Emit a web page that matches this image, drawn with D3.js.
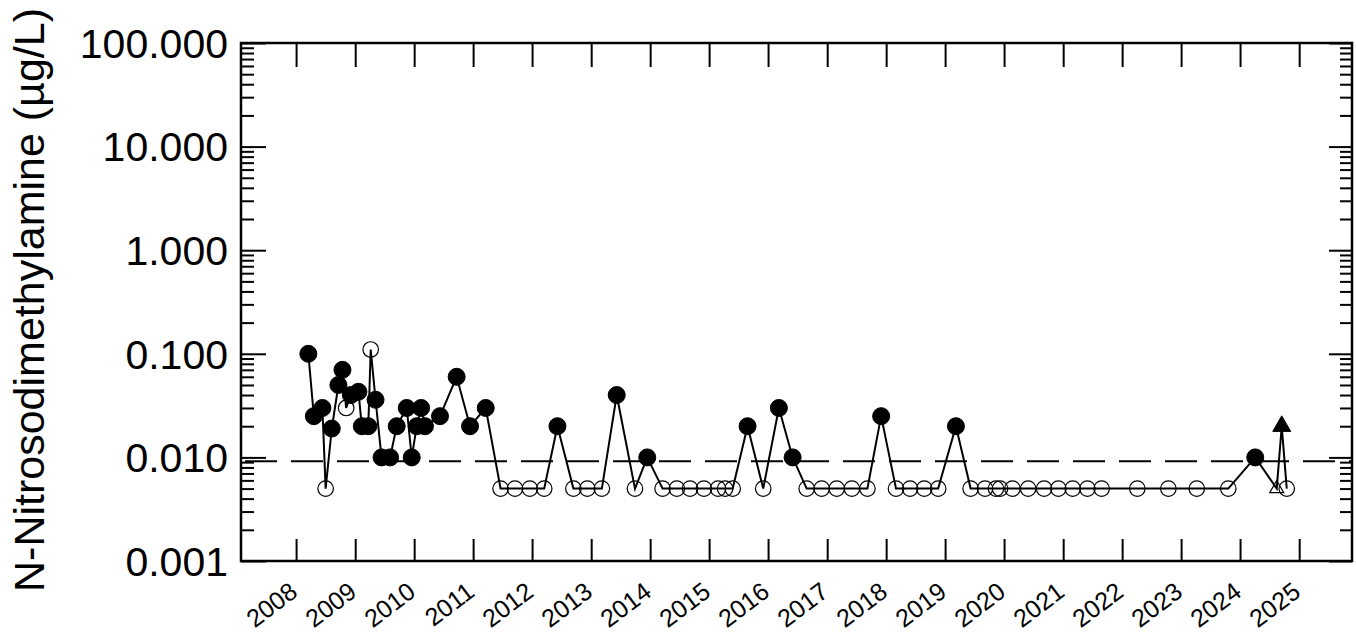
<!DOCTYPE html>
<html>
<head>
<meta charset="utf-8">
<script src="https://cdn.jsdelivr.net/npm/d3@7"></script>
<style>
  body { margin: 0; background: #fff; }
  svg { display: block; font-family: "Liberation Sans", Arial, sans-serif; }
</style>
</head>
<body>
<svg width="1356" height="635"></svg>
<script>
// sample dates, results (ug/L), detect flag (1 = detected, 0 = below reporting limit), marker shape
var sampleDates = [
  "2008-03-17", "2008-04-20", "2008-06-12", "2008-07-02", "2008-08-09", "2008-09-19", "2008-10-14", "2008-11-06",
  "2008-12-05", "2009-01-21", "2009-02-11", "2009-03-23", "2009-04-07", "2009-05-07", "2009-06-13", "2009-08-05",
  "2009-09-15", "2009-11-16", "2009-12-17", "2010-01-17", "2010-02-13", "2010-03-09", "2010-06-10", "2010-09-21",
  "2010-12-13", "2011-03-20", "2011-06-20", "2011-09-17", "2011-12-18", "2012-03-16", "2012-06-06", "2012-09-13",
  "2012-12-08", "2013-03-08", "2013-06-08", "2013-09-29", "2013-12-14", "2014-03-19", "2014-06-15", "2014-09-05",
  "2014-11-30", "2015-02-25", "2015-04-10", "2015-05-27", "2015-08-27", "2015-12-02", "2016-03-08", "2016-06-01",
  "2016-08-27", "2016-11-28", "2017-03-01", "2017-06-03", "2017-09-07", "2017-12-01", "2018-03-03", "2018-05-29",
  "2018-08-25", "2018-11-19", "2019-03-09", "2019-06-08", "2019-09-05", "2019-11-12", "2019-12-07", "2020-02-22",
  "2020-05-29", "2020-09-05", "2020-12-02", "2021-03-01", "2021-05-31", "2021-08-27", "2022-04-05", "2022-10-14",
  "2023-04-08", "2023-10-20", "2024-04-04", "2024-08-15", "2024-09-15", "2024-10-16"
];
var results = [
  0.1, 0.025, 0.03, 0.005, 0.019, 0.05, 0.07, 0.03,
  0.04, 0.043, 0.02, 0.02, 0.11, 0.036, 0.01, 0.01,
  0.02, 0.03, 0.01, 0.02, 0.03, 0.02, 0.025, 0.06,
  0.02, 0.03, 0.005, 0.005, 0.005, 0.005, 0.02, 0.005,
  0.005, 0.005, 0.04, 0.005, 0.01, 0.005, 0.005, 0.005,
  0.005, 0.005, 0.005, 0.005, 0.02, 0.005, 0.03, 0.01,
  0.005, 0.005, 0.005, 0.005, 0.005, 0.025, 0.005, 0.005,
  0.005, 0.005, 0.02, 0.005, 0.005, 0.005, 0.005, 0.005,
  0.005, 0.005, 0.005, 0.005, 0.005, 0.005, 0.005, 0.005,
  0.005, 0.005, 0.01, 0.005, 0.02, 0.005
];
var detected = [
  1, 1, 1, 0, 1, 1, 1, 0,
  1, 1, 1, 1, 0, 1, 1, 1,
  1, 1, 1, 1, 1, 1, 1, 1,
  1, 1, 0, 0, 0, 0, 1, 0,
  0, 0, 1, 0, 1, 0, 0, 0,
  0, 0, 0, 0, 1, 0, 1, 1,
  0, 0, 0, 0, 0, 1, 0, 0,
  0, 0, 1, 0, 0, 0, 0, 0,
  0, 0, 0, 0, 0, 0, 0, 0,
  0, 0, 1, 0, 1, 0
];
var markerShape = sampleDates.map(function(d, i) { return (i === 75 || i === 76) ? "triangle" : "circle"; });

var yearTicks = d3.range(2008, 2026);
var yTickValues = [0.001, 0.01, 0.1, 1, 10, 100];
var reportingLimit = 0.0092;
var yTitle = "N-Nitrosodimethylamine (\u00b5g/L)";

var svg = d3.select("svg"),
    plotLeft = 241, plotRight = 1352, plotTop = 43, plotBottom = 561;

var parse = d3.timeParse("%Y-%m-%d");

var x = d3.scaleTime()
    .domain([new Date(2007, 0, 25), new Date(2025, 10, 24)])
    .range([plotLeft, plotRight]);

var y = d3.scaleLog()
    .domain([0.001, 100])
    .range([plotBottom, plotTop]);

var points = sampleDates.map(function(d, i) {
  return { date: parse(d), value: results[i], det: detected[i], shape: markerShape[i] };
});

var minorTicks = y.ticks().filter(function(v) { return yTickValues.indexOf(v) < 0; });
var yearDates = yearTicks.map(function(yr) { return new Date(yr, 0, 1); });

function styleTicks(g) {
  g.select(".domain").remove();
  g.selectAll("line").attr("stroke", "#000").attr("stroke-width", 2);
}

// left / right axes with major + minor inner ticks
svg.append("g")
    .attr("transform", "translate(" + plotLeft + ",0)")
    .call(d3.axisRight(y).tickValues(minorTicks).tickSize(13).tickFormat(""))
    .call(styleTicks);
svg.append("g")
    .attr("transform", "translate(" + plotLeft + ",0)")
    .call(d3.axisRight(y).tickValues(yTickValues).tickSize(25).tickFormat(""))
    .call(styleTicks);
svg.append("g")
    .attr("transform", "translate(" + plotRight + ",0)")
    .call(d3.axisLeft(y).tickValues(minorTicks).tickSize(12).tickFormat(""))
    .call(styleTicks);
svg.append("g")
    .attr("transform", "translate(" + plotRight + ",0)")
    .call(d3.axisLeft(y).tickValues(yTickValues).tickSize(23).tickFormat(""))
    .call(styleTicks);

// y labels
svg.append("g")
    .selectAll("text")
    .data(yTickValues)
    .enter().append("text")
    .attr("x", plotLeft - 13)
    .attr("y", function(d) { return y(d); })
    .attr("dy", "0.36em")
    .attr("text-anchor", "end")
    .attr("font-size", 41)
    .text(d3.format(".3f"));

// x ticks, top and bottom
svg.append("g")
    .attr("transform", "translate(0," + plotBottom + ")")
    .call(d3.axisTop(x).tickValues(yearDates).tickSize(22).tickFormat(""))
    .call(styleTicks);
svg.append("g")
    .attr("transform", "translate(0," + plotTop + ")")
    .call(d3.axisBottom(x).tickValues(yearDates).tickSize(24).tickFormat(""))
    .call(styleTicks);

svg.append("g")
    .selectAll("text")
    .data(yearDates)
    .enter().append("text")
    .attr("transform", function(d) { return "translate(" + (x(d) + 3) + ",595) rotate(-37)"; })
    .attr("text-anchor", "end")
    .attr("font-size", 25)
    .text(function(d) { return d.getFullYear(); });

// frame
svg.append("rect")
    .attr("x", plotLeft).attr("y", plotTop)
    .attr("width", plotRight - plotLeft).attr("height", plotBottom - plotTop)
    .attr("fill", "none").attr("stroke", "#000").attr("stroke-width", 2.5);

// axis title
svg.append("text")
    .attr("transform", "translate(44,300) rotate(-90)")
    .attr("text-anchor", "middle")
    .attr("font-size", 43)
    .text(yTitle);

// reporting limit dashed line
svg.append("line")
    .attr("x1", plotLeft + 4).attr("x2", plotRight)
    .attr("y1", y(reportingLimit)).attr("y2", y(reportingLimit))
    .attr("stroke", "#000").attr("stroke-width", 2)
    .attr("stroke-dasharray", "32,14");

// data line
var line = d3.line()
    .x(function(d) { return x(d.date); })
    .y(function(d) { return y(d.value); });

svg.append("path")
    .datum(points)
    .attr("d", line)
    .attr("fill", "none")
    .attr("stroke", "#000")
    .attr("stroke-width", 2);

// markers
svg.append("g").selectAll("path")
    .data(points)
    .enter().append("path")
    .attr("transform", function(d) { return "translate(" + x(d.date) + "," + y(d.value) + ")"; })
    .attr("d", function(d) {
      if (d.shape === "triangle") return d3.symbol().type(d3.symbolTriangle).size(d.det ? 140 : 85)();
      return d3.symbol().type(d3.symbolCircle).size(d.det ? 227 : 190)();
    })
    .attr("fill", function(d) { return d.det ? "#000" : "none"; })
    .attr("stroke", "#000")
    .attr("stroke-width", function(d) { return d.det ? 1 : 1.2; });
</script>
</body>
</html>
